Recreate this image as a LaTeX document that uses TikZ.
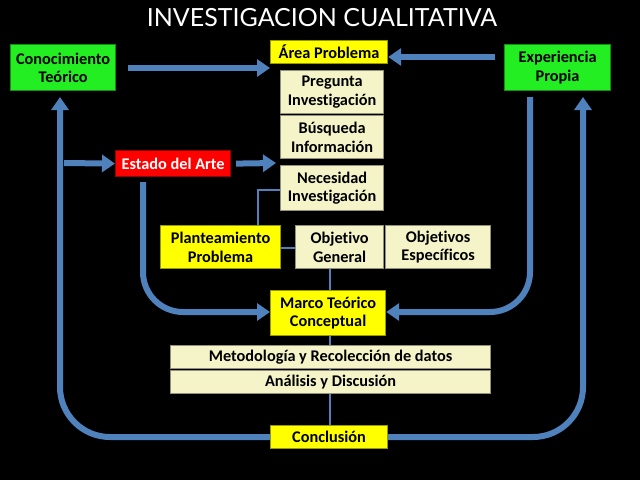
\documentclass[tikz,border=0pt]{standalone}
\usepackage{fontspec}
\setmainfont{Carlito}[Ligatures={NoCommon}]
\newfontfamily\titlefont{Lato}
\usetikzlibrary{arrows.meta}
\definecolor{ablue}{HTML}{4F81BD}
\definecolor{cream}{HTML}{F5F3C8}
\definecolor{ylw}{HTML}{FFFF00}
\definecolor{grn}{HTML}{22EE22}
\begin{document}
\begin{tikzpicture}[x=1pt,y=-1pt,
 box/.style={draw=#1!60!black,line width=1.2pt,anchor=north west,inner sep=0pt},
 lbl/.style={align=center,font=\bfseries\fontsize{16.3}{18.5}\selectfont},
 blk/.style={draw=ablue,line width=6pt,-{Triangle[width=17pt,length=13pt]}},
 thin/.style={draw=ablue,line width=2pt}]
\fill[black] (0,0) rectangle (640,480);
\useasboundingbox (0,0) rectangle (640,480);
\node[white,font=\titlefont\fontsize{25}{27}\selectfont] (title) at (322,18) {INVESTIGACION CUALITATIVA};
% thin connectors first
\coordinate (cv) at (330,268);
\coordinate (cc) at (330,425);
\draw[thin] (280,190) -- (258,190) -- (258,225);
\draw[thin] (280,248) -- (295,248);
\draw[thin] (cv) -- (cc);
% boxes
\foreach \a/\b/\c/\d/\n/\f/\t/\txt in {
 10/44/115/90/cono/grn/black/{Conocimiento\\Teórico},
 270/40/387/63/area/ylw/black/{Área Problema},
 504/44/610/90/expe/grn/black/{Experiencia\\Propia},
 280/70/383/113/preg/cream/black/{Pregunta\\Investigación},
 280/115/383/158/busq/cream/black/{Búsqueda\\Información},
 115/150/230/176/esta/red/white/{Estado del Arte},
 280/165/383/210/nece/cream/black/{Necesidad\\Investigación},
 160/225/280/268/plan/ylw/black/{Planteamiento\\Problema},
 295/225/383/268/objg/cream/black/{Objetivo\\General},
 385/225/490/268/obje/cream/black/{Objetivos\\Específicos},
 270/290/385/335/marc/ylw/black/{Marco Teórico\\Conceptual},
 170/345/490/368/meto/cream/black/{Metodología y Recolección de datos},
 170/370/490/393/anal/cream/black/{Análisis y Discusión},
 270/425/387/448/conc/ylw/black/{Conclusión}}
{\node[box=\f,fill=\f,minimum width=\c-\a,minimum height=\d-\b] (\n) at (\a,\b) {};
 \node[lbl,text=\t] at (\n.center) {\txt};}
% block arrows
\draw[blk] (128,68) -- (area.west|-0,68);
\draw[blk] (495,57) -- (area.east|-0,57);
\draw[blk] (esta.east) ++(5,0) -- (276,163);
\draw[blk] (64,163) -- (esta.west);
\draw[blk] (conc.west) -- (110,437) arc[start angle=90,end angle=180,radius=50] -- (60,97);
\draw[blk] (conc.east) -- (533,437) arc[start angle=90,end angle=0,radius=50] -- (583,97);
\draw[blk] (143,182) -- (143,272) arc[start angle=180,end angle=90,radius=40] -- (marc.west|-0,312);
\draw[blk] (530,97) -- (530,272) arc[start angle=0,end angle=90,radius=40] -- (marc.east|-0,312);
\end{tikzpicture}
\end{document}
